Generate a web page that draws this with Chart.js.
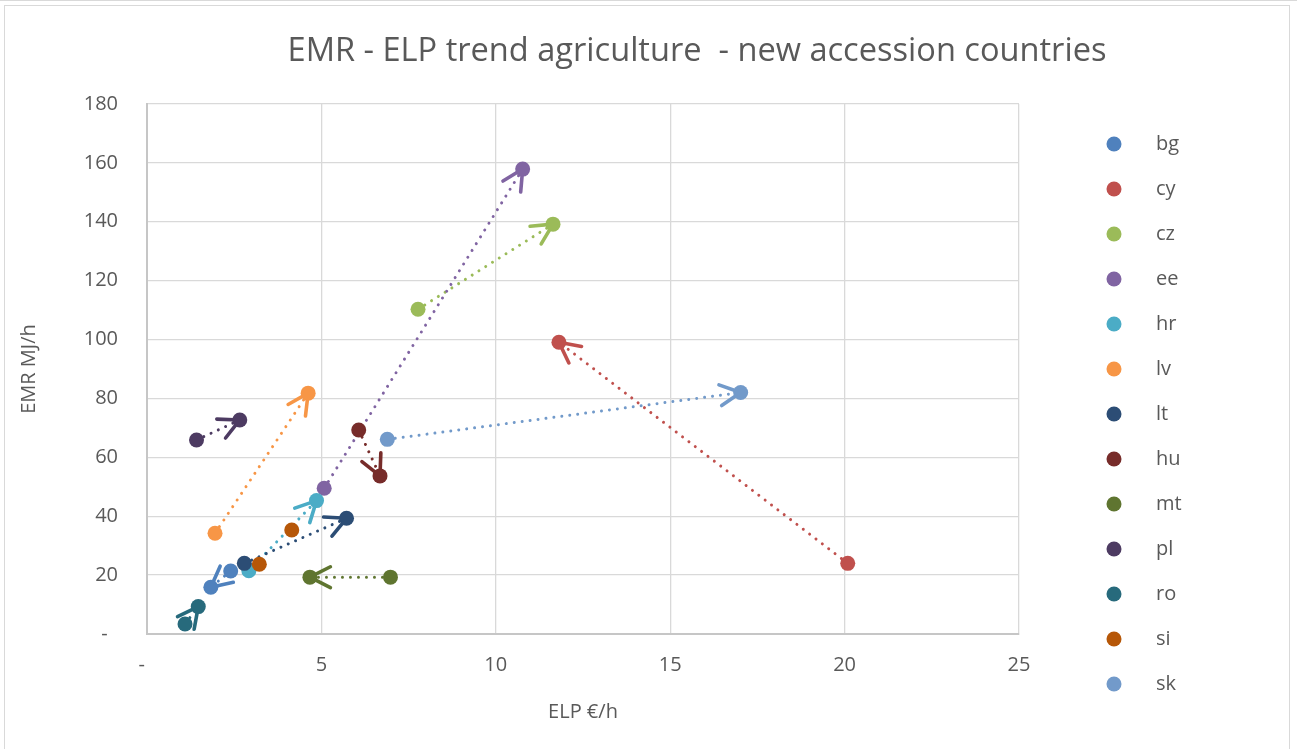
<!DOCTYPE html>
<html>
<head>
<meta charset="utf-8">
<title>EMR - ELP trend agriculture - new accession countries</title>
<script src="https://cdn.jsdelivr.net/npm/chart.js@4/dist/chart.umd.min.js"></script>
<style>
  html, body { margin: 0; padding: 0; background: #ffffff; }
  #wrap { position: relative; width: 1297px; height: 749px; overflow: hidden; }
  #topline { position: absolute; left: 0; top: 0; width: 1297px; height: 1px; background: #d9d9d9; }
  #frame { position: absolute; left: 4px; top: 5px; width: 1284px; height: 800px; border: 1px solid #d9d9d9; }
  #c { position: absolute; left: 0; top: 0; }
</style>
</head>
<body>
<div id="wrap">
  <div id="topline"></div>
  <div id="frame"></div>
  <canvas id="c" width="1297" height="749"></canvas>
</div>
<script>
// Country codes, one series each
const countries = ['bg', 'cy', 'cz', 'ee', 'hr', 'lv', 'lt', 'hu', 'mt', 'pl', 'ro', 'si', 'sk'];

// Labour productivity (ELP, €/h) and energy use (EMR, MJ/h): first and last observation
const elpFrom = [2.40, 20.09, 7.77, 5.08, 2.92, 1.95, 2.79, 6.07, 6.98, 1.42, 1.09, 3.22, 6.89];
const emrFrom = [21.4, 24.0, 110.3, 49.5, 21.5, 34.2, 24.0, 69.3, 19.3, 65.9, 3.4, 23.7, 66.1];
const elpTo   = [1.83, 11.81, 11.64, 10.77, 4.86, 4.62, 5.72, 6.68, 4.67, 2.66, 1.47, 4.15, 17.02];
const emrTo   = [15.9, 99.1, 139.2, 157.9, 45.3, 81.8, 39.3, 53.7, 19.3, 72.7, 9.3, 35.3, 82.0];

// Series drawn as markers only (no trend line / arrow)
const markersOnly = ['si'];

const seriesColors = ['#4F81BD', '#C0504D', '#9BBB59', '#8064A2', '#4BACC6', '#F79646',
                      '#2C4D75', '#772C2A', '#5F7530', '#4D3B62', '#276A7C', '#B65708', '#729ACA'];

const chartTitle = 'EMR - ELP trend agriculture  - new accession countries';
const xAxisTitle = 'ELP €/h';
const yAxisTitle = 'EMR MJ/h';
const zeroTick = '-';

const TEXT = '#595959';
const FONT = '"Open Sans", "DejaVu Sans", sans-serif';

const datasets = countries.map((code, i) => ({
  label: code,
  data: [{ x: elpFrom[i], y: emrFrom[i] }, { x: elpTo[i], y: emrTo[i] }],
  showLine: !markersOnly.includes(code),
  borderColor: seriesColors[i],
  backgroundColor: seriesColors[i],
  borderWidth: 3,
  borderDash: [0.001, 8],
  borderCapStyle: 'round',
  pointRadius: 7.5,
  pointHoverRadius: 7.5,
  pointBorderWidth: 0,
  order: countries.length - i
}));

// Open arrowhead at the end of each trend line, painted under the series' own line and markers
const trendArrows = {
  id: 'trendArrows',
  beforeDatasetDraw(chart, args) {
    const ds = chart.data.datasets[args.index];
    if (!ds.showLine) return;
    const pts = args.meta.data;
    const a = pts[0], b = pts[pts.length - 1];
    const back = Math.atan2(a.y - b.y, a.x - b.x);
    const ctx = chart.ctx;
    ctx.save();
    ctx.strokeStyle = ds.borderColor;
    ctx.lineWidth = 3.6;
    ctx.lineCap = 'round';
    ctx.beginPath();
    [-1, 1].forEach(s => {
      const t = back + s * 0.47;
      ctx.moveTo(b.x, b.y);
      ctx.lineTo(b.x + 23 * Math.cos(t), b.y + 23 * Math.sin(t));
    });
    ctx.stroke();
    ctx.restore();
  }
};

// Chart title, x axis title and the legend column on the right
const decorations = {
  id: 'decorations',
  afterDraw(chart) {
    const ctx = chart.ctx;
    const area = chart.chartArea;
    ctx.save();
    ctx.fillStyle = TEXT;

    ctx.font = '32.6px ' + FONT;
    ctx.textAlign = 'center';
    ctx.textBaseline = 'alphabetic';
    ctx.fillText(chartTitle, 697, 61);

    ctx.font = '20px ' + FONT;
    ctx.textBaseline = 'middle';
    ctx.fillText(xAxisTitle, (area.left + area.right) / 2, 712);

    chart.data.datasets.forEach((ds, i) => {
      const y = 144 + i * 45;
      ctx.beginPath();
      ctx.fillStyle = ds.backgroundColor;
      ctx.arc(1114, y, 7.5, 0, Math.PI * 2);
      ctx.fill();
      ctx.fillStyle = TEXT;
      ctx.textAlign = 'left';
      ctx.fillText(ds.label, 1156, y);
    });
    ctx.restore();
  }
};

new Chart(document.getElementById('c'), {
  type: 'scatter',
  data: { datasets },
  plugins: [trendArrows, decorations],
  options: {
    responsive: false,
    animation: false,
    devicePixelRatio: 1,
    layout: { padding: { left: 0, top: 104, right: 278, bottom: 0 } },
    plugins: {
      legend: { display: false },
      title: { display: false },
      tooltip: { enabled: false }
    },
    scales: {
      x: {
        type: 'linear',
        min: 0,
        max: 25,
        afterFit(scale) { scale.height = 115; },
        ticks: {
          stepSize: 5,
          padding: 19,
          color: TEXT,
          font: { family: FONT, size: 20 },
          callback: v => (v === 0 ? zeroTick + '  ' : v)
        },
        grid: { color: '#d9d9d9', lineWidth: 1.3, drawTicks: false },
        border: { color: '#c6c6c6', width: 2 }
      },
      y: {
        type: 'linear',
        min: 0,
        max: 180,
        afterFit(scale) { scale.width = 147; },
        ticks: {
          stepSize: 20,
          padding: 29,
          color: TEXT,
          font: { family: FONT, size: 20 },
          callback: v => (v === 0 ? zeroTick + '  ' : v)
        },
        grid: { color: '#d9d9d9', lineWidth: 1.3, drawTicks: false },
        border: { color: '#c6c6c6', width: 2 },
        title: {
          display: true,
          text: yAxisTitle,
          color: TEXT,
          font: { family: FONT, size: 20 },
          padding: { top: 17, bottom: 0 }
        }
      }
    }
  }
});
</script>
</body>
</html>
